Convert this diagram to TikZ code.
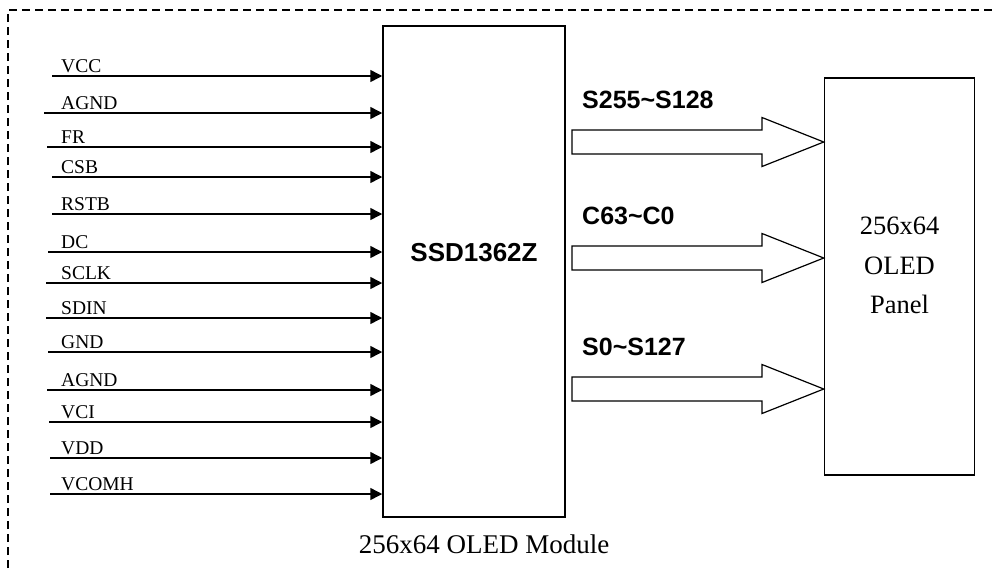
\documentclass[tikz,border=0pt]{standalone}
\usepackage{fontspec}
\setmainfont{Liberation Serif}
\setsansfont{Liberation Sans}
\usetikzlibrary{arrows.meta,calc}

\begin{document}
\begin{tikzpicture}[x=1pt, y=-1pt,
    box/.style={draw, line width=1.5pt, inner sep=0pt},
    pin/.style={line width=1.5pt, -{Triangle[length=12pt,width=12pt]}},
    pinlabel/.style={anchor=base west, inner sep=0pt, font=\fontsize{19.5}{23}\selectfont},
    bus/.style={draw, line width=1.2pt, line join=miter},
    buslabel/.style={anchor=base west, inner sep=0pt, font=\sffamily\bfseries\fontsize{25}{30}\selectfont}]
        \useasboundingbox (0,0) rectangle (995,568);
        % module frame
        \draw[dash pattern=on 8pt off 5pt, line width=1.6pt] (8,568) -- (8,10) -- (995,10);
        \node[box, minimum width=182pt, minimum height=491pt] (chip) at (474,271.5) {};
        \node[font=\sffamily\bfseries\fontsize{26}{30}\selectfont] (chipname) at (474,252.5) {SSD1362Z};
        \node[box, minimum width=150pt, minimum height=397pt] (panel) at (899.5,276.5) {};
        \node[align=center, font=\fontsize{26.5}{39.5}\selectfont] (paneltxt) at (899.5,265.5) {256x64\\OLED\\Panel};
        \node[anchor=base, inner sep=0pt, font=\fontsize{27}{32}\selectfont] (modlabel) at (484,553) {256x64 OLED Module};
        % input pins
        \foreach \yy/\pin/\xs [count=\i] in {76/VCC/52, 113/AGND/44, 147/FR/47, 177/CSB/52, 214/RSTB/52,
            252/DC/48, 283/SCLK/46, 318/SDIN/46, 352/GND/48, 390/AGND/47, 422/VCI/49, 458/VDD/50, 494/VCOMH/50} {
          \coordinate (p\i) at (\xs,\yy);
          \draw[pin] (p\i) -- (p\i -| chip.west);
          \node[pinlabel] (l\i) at (61,\yy-4) {\pin};
        }
        % outputs to the panel
        \foreach \yy/\sig [count=\i] in {142/S255\textasciitilde S128, 258/C63\textasciitilde C0, 389/S0\textasciitilde S127} {
          \coordinate (b\i) at (572,\yy);
          \draw[bus] (b\i) ++(0,-12) -- ++(190,0) -- ++(0,-12.5) -- (b\i -| panel.west)
            -- ($(b\i)+(190,24.5)$) -- ++(0,-12.5) -- ++(-190,0) -- cycle;
          \node[buslabel] (s\i) at (582,\yy-34) {\sig};
        }
\end{tikzpicture}
\end{document}
